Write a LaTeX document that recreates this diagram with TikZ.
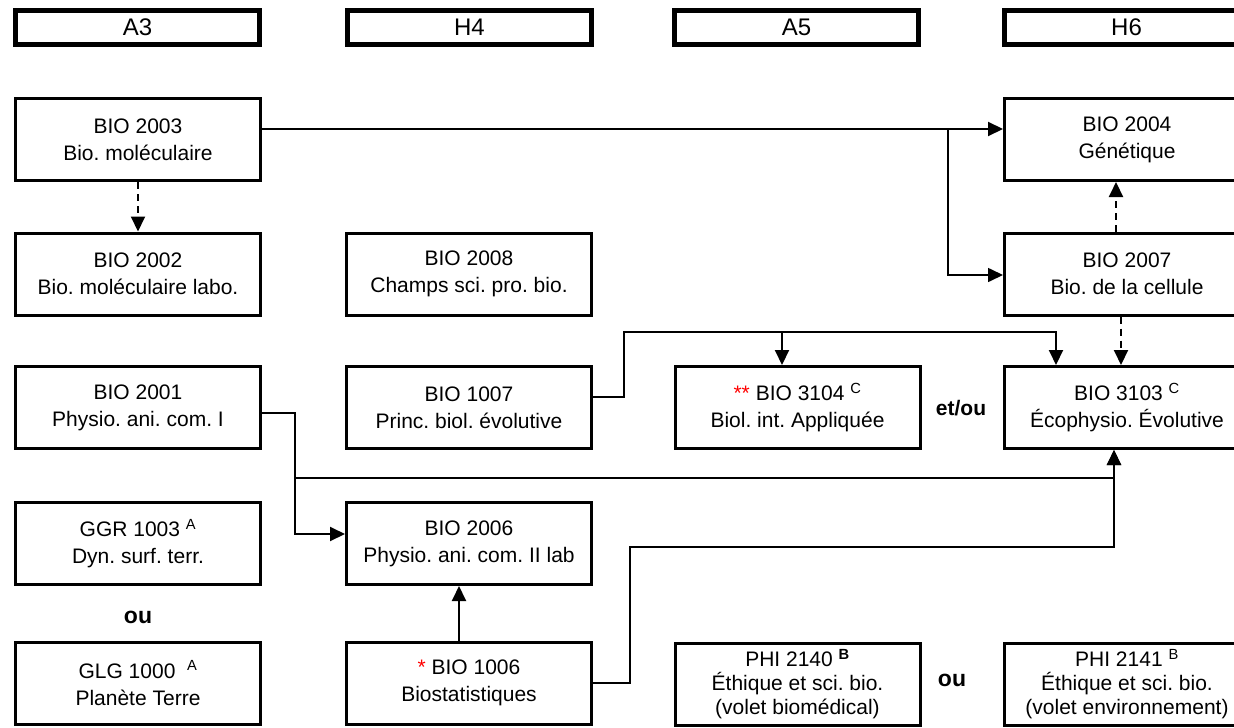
\documentclass[tikz,border=0pt]{standalone}
\usepackage{fontspec}
\setmainfont{Liberation Sans}
\usetikzlibrary{arrows.meta}
\frenchspacing

\begin{document}
\begin{tikzpicture}[x=1pt,y=-1pt,
    session/.style={draw,line width=5pt,minimum width=244pt,minimum height=34pt,
      font=\fontsize{24pt}{28pt}\selectfont},
    cours/.style={draw,line width=3pt,minimum width=245pt,minimum height=82pt,
      align=center,font=\fontsize{21pt}{27pt}\selectfont},
    cours3/.style={cours,font=\fontsize{21pt}{24pt}\selectfont},
    lien/.style={line width=2pt,-{Triangle[length=15pt,width=14pt]}},
    lienfin/.style={lien,line width=1.6pt},
    pointille/.style={lien,dash pattern=on 7pt off 5pt},
    choix/.style={font=\fontsize{23pt}{27pt}\selectfont\bfseries}]
  \useasboundingbox (0,0) rectangle (1234,728);
  % sessions
  \node[session] (a3) at (137.5,27.5) {A3};
  \node[session] (h4) at (469.5,27.5) {H4};
  \node[session] (a5) at (796.5,27.5) {A5};
  \node[session] (h6) at (1126.5,27.5) {H6};
  % cours
  \node[cours] (bio2003) at (138,139.5) {BIO 2003\\Bio. moléculaire};
  \node[cours] (bio2002) at (138,274) {BIO 2002\\Bio. moléculaire labo.};
  \node[cours] (bio2001) at (138,407.5) {BIO 2001\\Physio. ani. com. I};
  \node[cours] (ggr1003) at (138,543.5) {GGR 1003 \textsuperscript{A}\\Dyn. surf. terr.};
  \node[cours] (glg1000) at (138,683) {GLG 1000\ \ \textsuperscript{A}\\Planète Terre};
  \node[cours] (bio2008) at (469,274) {BIO 2008\\Champs sci. pro. bio.};
  \node[cours] (bio1007) at (469,407.5) {BIO 1007\\Princ. biol. évolutive};
  \node[cours] (bio2006) at (469,543.5) {BIO 2006\\Physio. ani. com. II lab};
  \node[cours] (bio1006) at (469,683) {\textcolor{red}{*} BIO 1006\\Biostatistiques};
  \node[cours] (bio3104) at (797.5,407.5) {\textcolor{red}{**} BIO 3104 \textsuperscript{C}\\Biol. int. Appliquée};
  \node[cours3] (phi2140) at (797.5,684) {PHI 2140 \textsuperscript{\bfseries B}\\Éthique et sci. bio.\\(volet biomédical)};
  \node[cours] (bio2004) at (1127,139.5) {BIO 2004\\Génétique};
  \node[cours] (bio2007) at (1127,274) {BIO 2007\\Bio. de la cellule};
  \node[cours] (bio3103) at (1127,407.5) {BIO 3103 \textsuperscript{C}\\Écophysio. Évolutive};
  \node[cours3] (phi2141) at (1127,684) {PHI 2141 \textsuperscript{B}\\Éthique et sci. bio.\\(volet environnement)};
  % choix
  \node[choix] (ou1) at (138,617) {ou};
  \node[choix,font=\fontsize{21pt}{25pt}\selectfont\bfseries] (etou) at (961,408) {et/ou};
  \node[choix] (ou2) at (952,680) {ou};
  % points de passage
  \coordinate (fourche) at (948,129);
  \coordinate (coude) at (624,332);
  \coordinate (descente) at (295,478);
  \coordinate (palier) at (630,547);
  \coordinate (b3104in) at ([xshift=-15.5pt]bio3104.north);
  \coordinate (remontee) at ([xshift=-13pt]bio3103.south);
  % liens
  \draw[lien] ([yshift=10.5pt]bio2003.east) -- ([yshift=10.5pt]bio2004.west);
  \draw[lienfin] (fourche) |- ([yshift=-1pt]bio2007.west);
  \draw[pointille] (bio2003.south) -- (bio2002.north);
  \draw[pointille] ([xshift=-11pt]bio2007.north) -- ([xshift=-11pt]bio2004.south);
  \draw[pointille] ([xshift=-6pt]bio2007.south) -- ([xshift=-6pt]bio3103.north);
  \draw[lien] ([yshift=10.5pt]bio1007.east) -| (coude) -| ([xshift=-71pt]bio3103.north);
  \draw[lien] (coude -| b3104in) -- (b3104in);
  \draw[lien] ([yshift=-5.5pt]bio2001.east) -| (descente) |- ([yshift=9.5pt]bio2006.west);
  \draw[lien] (descente) -| (remontee);
  \draw[lien] (bio1006.east) -| (palier) -| (remontee);
  \draw[lien] ([xshift=-10pt]bio1006.north) -- ([xshift=-10pt]bio2006.south);
\end{tikzpicture}
\end{document}
